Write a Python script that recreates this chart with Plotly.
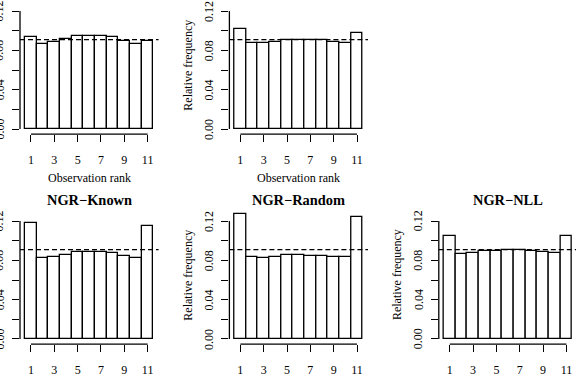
import plotly.graph_objects as go

# ---------------- data ----------------
ranks = list(range(1, 12))
freq_panel_a = [0.0936, 0.0861, 0.0882, 0.0912, 0.0943, 0.0949, 0.0943, 0.0932, 0.0895, 0.0864, 0.0898]
freq_panel_b = [0.1014, 0.0872, 0.0872, 0.0885, 0.0908, 0.0908, 0.0905, 0.0902, 0.0882, 0.0878, 0.0979]
freq_ngr_known = [0.1183, 0.0821, 0.0834, 0.0855, 0.0882, 0.0885, 0.0885, 0.0875, 0.0848, 0.0827, 0.1153]
freq_ngr_random = [0.1272, 0.0831, 0.0824, 0.0831, 0.0851, 0.0855, 0.0848, 0.0848, 0.0837, 0.0834, 0.1238]
freq_ngr_nll = [0.1048, 0.0865, 0.0875, 0.0892, 0.0895, 0.0905, 0.0902, 0.0895, 0.0882, 0.0872, 0.1046]

panel_titles = ["", "", "NGR\u2212Known", "NGR\u2212Random", "NGR\u2212NLL"]
panel_values = [freq_panel_a, freq_panel_b, freq_ngr_known, freq_ngr_random, freq_ngr_nll]
panel_cells = [(0, 0), (0, 1), (1, 0), (1, 1), (1, 2)]

x_tick_vals = [1, 3, 5, 7, 9, 11]
y_tick_vals = [0.0, 0.02, 0.04, 0.06, 0.08, 0.10, 0.12]
y_tick_text = ["0.00", "", "0.04", "", "0.08", "", "0.12"]
reference_level = 1 / 11
x_label = "Observation rank"
y_label = "Relative frequency"

# ---------------- geometry (pixels) ----------------
W, H = 576, 380
col_left_px = [20.0, 229.4, 438.8]
plot_w_px = 138.6
row_zero_px = [129.0, 339.0]
px_per_unit = 983.0
x_range = [0.06, 11.94]
y_lo, y_hi = -0.0052, 0.1352

FONT = "Liberation Serif"


def px_x(p):
    return p / W


def px_y(p):
    return 1 - p / H


fig = go.Figure()
shapes = []
annotations = []

for i, (vals, title, (r, c)) in enumerate(zip(panel_values, panel_titles, panel_cells)):
    n = "" if i == 0 else str(i + 1)
    zero = row_zero_px[r]
    bottom_px = zero - y_lo * px_per_unit
    top_px = zero - y_hi * px_per_unit
    hi = y_hi
    if top_px < 0:
        top_px = 0.0
        hi = zero / px_per_unit
    left = col_left_px[c]
    right = left + plot_w_px
    x_dom = [px_x(left), min(1.0, px_x(right))]
    x_rng = list(x_range)
    if right > W:
        x_rng[1] = x_range[0] + (W - left) / (plot_w_px / (x_range[1] - x_range[0]))
    y_dom = [px_y(bottom_px), px_y(top_px)]

    fig.add_trace(go.Bar(
        x=ranks, y=vals, width=1,
        marker=dict(color="white", line=dict(color="black", width=1.3)),
        xaxis="x" + n, yaxis="y" + n, showlegend=False, hoverinfo="skip",
    ))

    common = dict(showgrid=False, zeroline=False, showline=False, ticks="outside",
                  ticklen=7, tickwidth=1.3, tickcolor="black",
                  ticklabeloverflow="allow",
                  tickfont=dict(family=FONT, size=12, color="black"))
    fig.layout["xaxis" + n] = dict(domain=x_dom, range=x_rng, anchor="y" + n,
                                   tickvals=x_tick_vals, ticklabelstandoff=7, **common)
    fig.layout["yaxis" + n] = dict(domain=y_dom, range=[y_lo, hi], anchor="x" + n,
                                   tickvals=y_tick_vals, showticklabels=False, **common)

    # rotated y tick labels (base-R style, placed beside the ticks)
    for tv, tt in zip(y_tick_vals, y_tick_text):
        if tt:
            annotations.append(dict(text=tt, x=px_x(left - 20.5), y=tv,
                                    xref="paper", yref="y" + n, showarrow=False,
                                    textangle=-90, xanchor="center", yanchor="middle",
                                    font=dict(family=FONT, size=12, color="black")))

    # axis segments spanning the first to last tick
    shapes.append(dict(type="line", xref="x" + n, yref="y" + n + " domain",
                       x0=x_tick_vals[0], x1=x_tick_vals[-1], y0=0, y1=0,
                       line=dict(color="black", width=1.3)))
    shapes.append(dict(type="line", xref="x" + n + " domain", yref="y" + n,
                       x0=0, x1=0, y0=y_tick_vals[0], y1=y_tick_vals[-1],
                       line=dict(color="black", width=1.3)))
    # dashed uniform reference
    shapes.append(dict(type="line", xref="x" + n + " domain", yref="y" + n,
                       x0=0, x1=1, y0=reference_level, y1=reference_level,
                       line=dict(color="black", width=1.3, dash="5px,3px")))

    cx = left + plot_w_px / 2
    if title:
        annotations.append(dict(text="<b>" + title + "</b>", x=px_x(cx), y=px_y(zero - 139),
                                xref="paper", yref="paper", showarrow=False,
                                xanchor="center", yanchor="middle",
                                font=dict(family=FONT, size=14.4, color="black")))
    if r == 0:
        annotations.append(dict(text=x_label, x=px_x(cx), y=px_y(zero + 49.3),
                                xref="paper", yref="paper", showarrow=False,
                                xanchor="center", yanchor="middle",
                                font=dict(family=FONT, size=12, color="black")))
    if c > 0:
        annotations.append(dict(text=y_label, x=px_x(left - 41.7), y=px_y(zero - 64),
                                xref="paper", yref="paper", showarrow=False, textangle=-90,
                                xanchor="center", yanchor="middle",
                                font=dict(family=FONT, size=12, color="black")))

fig.update_layout(
    width=W, height=H, margin=dict(l=0, r=0, t=0, b=0),
    paper_bgcolor="white", plot_bgcolor="white",
    shapes=shapes, annotations=annotations, bargap=0,
)

fig.write_html("out.html")
